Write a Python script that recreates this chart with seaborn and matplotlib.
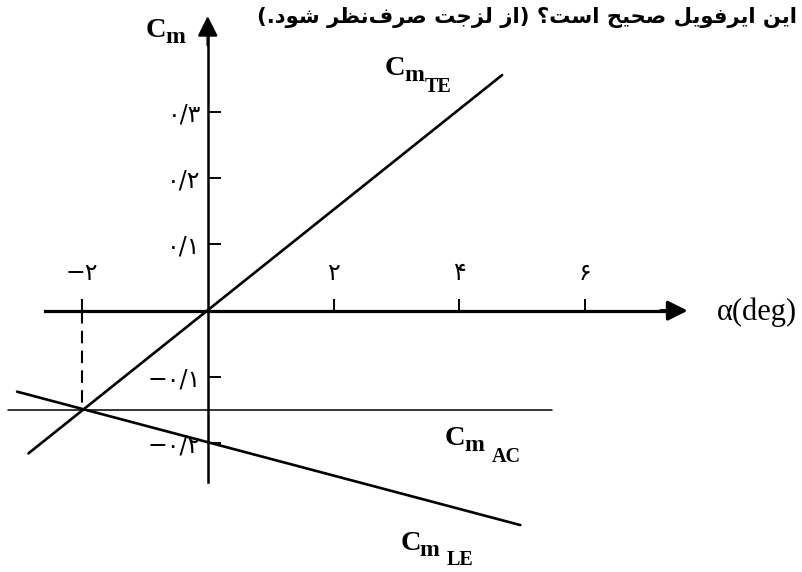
import matplotlib
matplotlib.use("Agg")
from matplotlib import pyplot as plt
import seaborn as sns

# --- data ---
alpha_te = [-2.85, 4.68]
cm_te = [-0.215, 0.355]

alpha_ac = [-3.17, 5.47]
cm_ac = [-0.15, -0.15]

alpha_le = [-3.03, 4.97]
cm_le = [-0.122, -0.323]

alpha_cut = [-2.0, -2.0]
cm_cut = [0.0, -0.15]

x_ticks = [-2, 2, 4, 6]
x_tick_labels = ["−۲", "۲", "۴", "۶"]
y_ticks = [-0.2, -0.1, 0.1, 0.2, 0.3]
y_tick_labels = ["−۰/۲", "−۰/۱", "۰/۱", "۰/۲", "۰/۳"]

title_fa = "این ایرفویل صحیح است؟ (از لزجت صرف\u200cنظر شود.)"

# presentation forms: isolated, final, initial, medial
FORMS = {
    "ا": ("\uFE8D", "\uFE8E", None, None),
    "د": ("\uFEA9", "\uFEAA", None, None),
    "ر": ("\uFEAD", "\uFEAE", None, None),
    "ز": ("\uFEAF", "\uFEB0", None, None),
    "و": ("\uFEED", "\uFEEE", None, None),
    "ت": ("\uFE95", "\uFE96", "\uFE97", "\uFE98"),
    "ج": ("\uFE9D", "\uFE9E", "\uFE9F", "\uFEA0"),
    "ح": ("\uFEA1", "\uFEA2", "\uFEA3", "\uFEA4"),
    "س": ("\uFEB1", "\uFEB2", "\uFEB3", "\uFEB4"),
    "ش": ("\uFEB5", "\uFEB6", "\uFEB7", "\uFEB8"),
    "ص": ("\uFEB9", "\uFEBA", "\uFEBB", "\uFEBC"),
    "ظ": ("\uFEC5", "\uFEC6", "\uFEC7", "\uFEC8"),
    "ف": ("\uFED1", "\uFED2", "\uFED3", "\uFED4"),
    "ل": ("\uFEDD", "\uFEDE", "\uFEDF", "\uFEE0"),
    "ن": ("\uFEE5", "\uFEE6", "\uFEE7", "\uFEE8"),
    "ی": ("\uFBFC", "\uFBFD", "\uFBFE", "\uFBFF"),
}


def shape_fa(s):
    # matplotlib has no arabic shaping / bidi, so do it by hand
    out = []
    for i, c in enumerate(s):
        if c not in FORMS:
            out.append(c)
            continue
        prev = s[i - 1] if i > 0 else None
        nxt = s[i + 1] if i + 1 < len(s) else None
        jp = prev in FORMS and FORMS[prev][2] is not None
        jn = FORMS[c][2] is not None and nxt in FORMS
        iso, fin, ini, med = FORMS[c]
        if jp and jn:
            out.append(med)
        elif jp:
            out.append(fin)
        elif jn:
            out.append(ini)
        else:
            out.append(iso)
    vis = "".join(out).replace("\u200c", "")[::-1]
    return vis.translate(str.maketrans("()", ")("))


sns.set_style("white")
plt.rcParams["font.family"] = ["DejaVu Sans"]

fig = plt.figure(figsize=(8.02, 5.72), dpi=100)
ax = fig.add_axes([0, 0, 1, 1])
ax.set_xlim(-3.302, 9.448)
ax.set_ylim(-0.3937, 0.4681)

line_kw = dict(ax=ax, color="black", estimator=None, sort=False, legend=False)
sns.lineplot(x=alpha_te, y=cm_te, lw=1.9, **line_kw)
sns.lineplot(x=alpha_le, y=cm_le, lw=1.9, **line_kw)
sns.lineplot(x=alpha_ac, y=cm_ac, lw=1.1, **line_kw)
sns.lineplot(x=alpha_cut, y=cm_cut, lw=1.5, dashes=False, **line_kw)
ax.lines[-1].set_dashes((6, 3.5))

# axes through the origin
for side in ["top", "right"]:
    ax.spines[side].set_visible(False)
ax.spines["left"].set_position(("data", 0))
ax.spines["bottom"].set_position(("data", 0))
ax.spines["left"].set_bounds(-0.258, 0.42)
ax.spines["bottom"].set_bounds(-2.59, 7.3)
ax.spines["left"].set_linewidth(1.8)
ax.spines["bottom"].set_linewidth(2.3)
ax.spines["left"].set_color("black")
ax.spines["bottom"].set_color("black")

ax.annotate("", xy=(0, 0.444), xytext=(0, 0.40),
            arrowprops=dict(arrowstyle="-|>,head_length=0.6,head_width=0.3",
                            mutation_scale=20, color="black", lw=1.8,
                            shrinkA=0, shrinkB=0))
ax.annotate("", xy=(7.63, 0), xytext=(7.2, 0),
            arrowprops=dict(arrowstyle="-|>,head_length=0.6,head_width=0.3",
                            mutation_scale=20, color="black", lw=2.3,
                            shrinkA=0, shrinkB=0))

ax.set_xticks(x_ticks, x_tick_labels)
ax.set_yticks(y_ticks, y_tick_labels)
ax.tick_params(axis="both", direction="in", length=9, width=1.4,
               color="black", labelsize=17, labelcolor="black",
               bottom=True, left=True)
ax.tick_params(axis="x", pad=-36)
ax.tick_params(axis="y", pad=5)
ax.grid(False)


def cm_label(x, y, sub, sub_dx=41, sub_dy=-17):
    serif = dict(family="Liberation Serif", weight="bold", color="black",
                 va="baseline", ha="left", textcoords="offset pixels")
    ax.annotate("C", xy=(x, y), xytext=(0, 0), fontsize=20.5, **serif)
    ax.annotate("m", xy=(x, y), xytext=(19, -6), fontsize=17, **serif)
    if sub:
        ax.annotate(sub, xy=(x, y), xytext=(sub_dx, sub_dy), fontsize=14.5, **serif)


cm_label(2.82, 0.355, "TE", 40)
cm_label(3.77, -0.202, "AC", 47)
cm_label(3.06, -0.36, "LE", 47, -15)
cm_label(-0.98, 0.412, "")

ax.text(8.10, -0.003, "α(deg)", family="Liberation Serif", fontsize=22,
        ha="left", va="center", color="black")

fig.text(257 / 802, 1 - 17 / 572, shape_fa(title_fa), ha="left", va="center",
         fontsize=15.2, weight="bold", color="black")

fig.savefig("out.png", dpi=100)
